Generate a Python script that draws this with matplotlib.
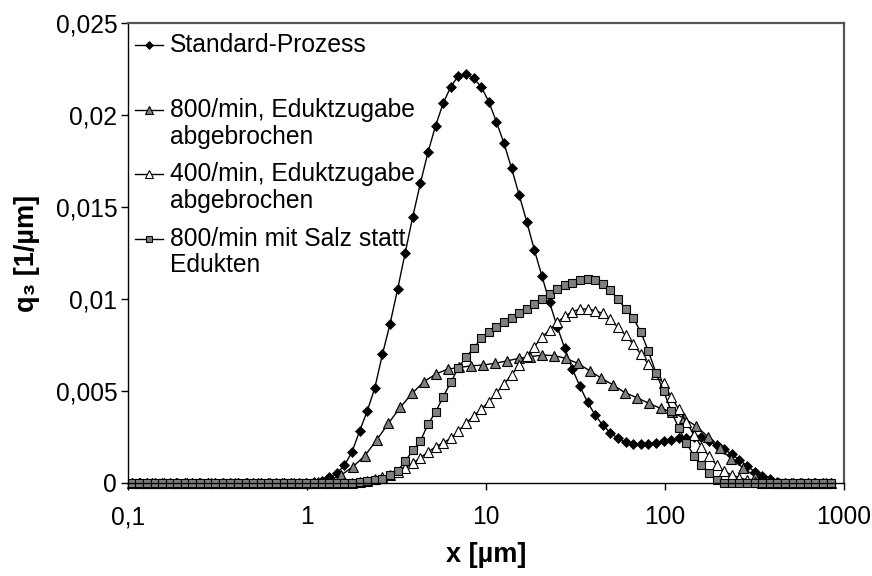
import matplotlib
matplotlib.use('Agg')
import matplotlib.pyplot as plt

plt.rcParams['font.family'] = ['Liberation Sans', 'DejaVu Sans']

# size classes of the fine grid (diamonds, white triangles, squares), in µm
x_fine = [0.1045, 0.1152, 0.1270, 0.1401, 0.1545, 0.1703, 0.1878, 0.2071, 0.2284, 0.2518,
          0.2777, 0.3062, 0.3377, 0.3724, 0.4106, 0.4528, 0.4993, 0.5506, 0.6072, 0.6695,
          0.7383, 0.8141, 0.8977, 0.9899, 1.092, 1.204, 1.327, 1.464, 1.614, 1.780,
          1.963, 2.164, 2.387, 2.632, 2.902, 3.200, 3.529, 3.890, 4.290, 4.731,
          5.217, 5.753, 6.344, 6.996, 7.714, 8.507, 9.380, 10.34, 11.40, 12.58,
          13.87, 15.29, 16.86, 18.59, 20.50, 22.61, 24.94, 27.50, 30.32, 33.43,
          36.87, 40.65, 44.83, 49.43, 54.51, 60.11, 66.29, 73.09, 80.60, 88.87,
          98.0, 108.1, 119.2, 131.4, 144.9, 159.8, 176.2, 194.3, 214.3, 236.2,
          260.5, 287.3, 316.7, 349.3, 385.1, 424.7, 468.4, 516.4, 569.5, 628.0,
          692.4, 763.6, 842.0]

# size classes of the coarse grid (grey triangles), in µm
x_coarse = [0.1, 0.1165, 0.1356, 0.1579, 0.1838, 0.2141, 0.2493, 0.2903, 0.3380, 0.3935,
            0.4581, 0.5334, 0.6211, 0.7231, 0.8420, 0.9806, 1.142, 1.329, 1.548, 1.803,
            2.099, 2.444, 2.846, 3.314, 3.859, 4.493, 5.232, 6.092, 7.093, 8.259,
            9.616, 11.20, 13.04, 15.18, 17.68, 20.58, 23.97, 27.91, 32.49, 37.84,
            44.06, 51.30, 59.74, 69.56, 80.99, 94.30, 109.8, 127.9, 148.9, 173.4,
            201.8, 235.0, 273.6, 318.6, 371.0, 432.0, 503.0, 585.7, 682.0, 794.1]

standard = ([0] * 24 +
            [0.00003, 0.00012, 0.0003, 0.00052, 0.00095, 0.00168, 0.00282, 0.0039, 0.00517, 0.00699,
             0.00864, 0.01053, 0.01252, 0.01448, 0.0163, 0.01798, 0.01943, 0.02065, 0.02155, 0.02215,
             0.02224, 0.02201, 0.02155, 0.02074, 0.01965, 0.01847, 0.01711, 0.01566, 0.01421, 0.01267,
             0.01125, 0.00982, 0.00849, 0.00732, 0.00619, 0.00525, 0.00438, 0.00369, 0.00314, 0.00273,
             0.00242, 0.0022, 0.00211, 0.00209, 0.00213, 0.00217, 0.00226, 0.00233, 0.00242, 0.00245,
             0.00249, 0.00248, 0.00229, 0.00206, 0.00182, 0.00155, 0.00124, 0.00093, 0.0006, 0.00039,
             0.00019, 0.00006] +
            [0] * 7)

rpm800_stop = ([0] * 16 +
               [0.00002, 0.00012, 0.00042, 0.00088, 0.00147, 0.00233, 0.00324, 0.00411, 0.00487, 0.0055,
                0.00592, 0.00618, 0.00628, 0.00636, 0.00641, 0.0065, 0.00663, 0.00677, 0.00686, 0.00695,
                0.00692, 0.00677, 0.0065, 0.0061, 0.00569, 0.00532, 0.0049, 0.00463, 0.00433, 0.00405,
                0.00385, 0.0035, 0.00309, 0.00251, 0.00187, 0.00129, 0.00081, 0.00033, 0.00008] +
               [0] * 5)

rpm400_stop = ([0] * 30 +
               [0.00005, 0.0001, 0.0002, 0.0003, 0.00045, 0.0006, 0.00082, 0.00106, 0.00137, 0.00167,
                0.00196, 0.00218, 0.00242, 0.00282, 0.00324, 0.00363, 0.004, 0.00441, 0.00487, 0.00538,
                0.00587, 0.00641, 0.0069, 0.00741, 0.00792, 0.00831, 0.00873, 0.00906, 0.00931, 0.00945,
                0.00946, 0.00936, 0.00922, 0.00891, 0.00846, 0.00804, 0.00755, 0.00701, 0.00646, 0.00592,
                0.00541, 0.00468, 0.004, 0.00332, 0.0026, 0.00196, 0.00145, 0.00095, 0.00063, 0.00042,
                0.00028, 0.00015, 0.00005] +
               [0] * 10)

salt = ([0] * 30 +
        [0.00005, 0.00008, 0.00013, 0.00023, 0.00045, 0.00066, 0.00117, 0.00177, 0.00226, 0.0032,
         0.00384, 0.00468, 0.00547, 0.00626, 0.00683, 0.00732, 0.00786, 0.00822, 0.00846, 0.00877,
         0.00898, 0.00926, 0.00947, 0.00971, 0.00998, 0.01026, 0.01054, 0.01076, 0.01089, 0.01103,
         0.01109, 0.01103, 0.01082, 0.01049, 0.00999, 0.00947, 0.00897, 0.00822, 0.00717, 0.00599,
         0.005, 0.00392, 0.00297, 0.00218, 0.00147, 0.00097, 0.00055, 0.00015] +
        [0] * 15)

legend_lines = [['Standard-Prozess'],
                ['800/min, Eduktzugabe', 'abgebrochen'],
                ['400/min, Eduktzugabe', 'abgebrochen'],
                ['800/min mit Salz statt', 'Edukten']]

xticks = [0.1, 1, 10, 100, 1000]
xtick_labels = ['0,1', '1', '10', '100', '1000']
yticks = [0, 0.005, 0.01, 0.015, 0.02, 0.025]
ytick_labels = ['0', '0,005', '0,01', '0,015', '0,02', '0,025']

styles = [dict(marker='D', ms=5.5, mfc='black', mec='black', mew=0.5),
          dict(marker='^', ms=7.5, mfc='#808080', mec='black', mew=0.8),
          dict(marker='^', ms=7.5, mfc='white', mec='black', mew=0.8),
          dict(marker='s', ms=6.1, mfc='#808080', mec='black', mew=0.8)]

fig = plt.figure(figsize=(8.72, 5.76), dpi=100)
ax = fig.add_axes([128.3 / 872, 1 - 482.8 / 576, 715.7 / 872, 459.5 / 576])

series = [(x_fine, standard), (x_coarse[1:], rpm800_stop[1:]), (x_fine, rpm400_stop), (x_fine, salt)]
for (xs, ys), st in zip(series, styles):
    ax.plot(xs, ys, color='black', lw=1, clip_on=False, **st)

ax.set_xscale('log')
ax.set_xlim(0.1, 1000)
ax.set_ylim(0, 0.025)
ax.set_xticks(xticks)
ax.set_xticklabels(xtick_labels)
ax.minorticks_off()
ax.set_yticks(yticks)
ax.set_yticklabels(ytick_labels)
ax.tick_params(axis='both', direction='out', length=5, width=1, labelsize=17.7, color='black')
ax.tick_params(axis='x', pad=11)
ax.tick_params(axis='y', pad=3)

for side in ['left', 'bottom']:
    ax.spines[side].set_color('black')
    ax.spines[side].set_linewidth(1)
for side in ['top', 'right']:
    ax.spines[side].set_color('#555555')
    ax.spines[side].set_linewidth(1.6)

# legend without frame, marker next to the first line of each entry
legend_y = [0.952, 0.811, 0.671, 0.531]
for lines, y, st in zip(legend_lines, legend_y, styles):
    lst = dict(st)
    lst['ms'] = st['ms'] * 0.8
    ax.plot([0.0094, 0.029, 0.0485], [y, y, y], transform=ax.transAxes, color='black',
            lw=1, markevery=[1], clip_on=False, **lst)
    for n, txt in enumerate(lines):
        ax.text(0.0583, y - n * 0.058, txt, transform=ax.transAxes, va='center',
                ha='left', fontsize=17.7)

fig.text(27 / 872, 1 - 253 / 576, 'q₃ [1/µm]', rotation=90, ha='center', va='center',
         fontsize=19.5, fontweight='bold')
fig.text(486 / 872, 1 - 555 / 576, 'x [µm]', ha='center', va='center',
         fontsize=19.5, fontweight='bold')

fig.savefig('out.png', dpi=100)
